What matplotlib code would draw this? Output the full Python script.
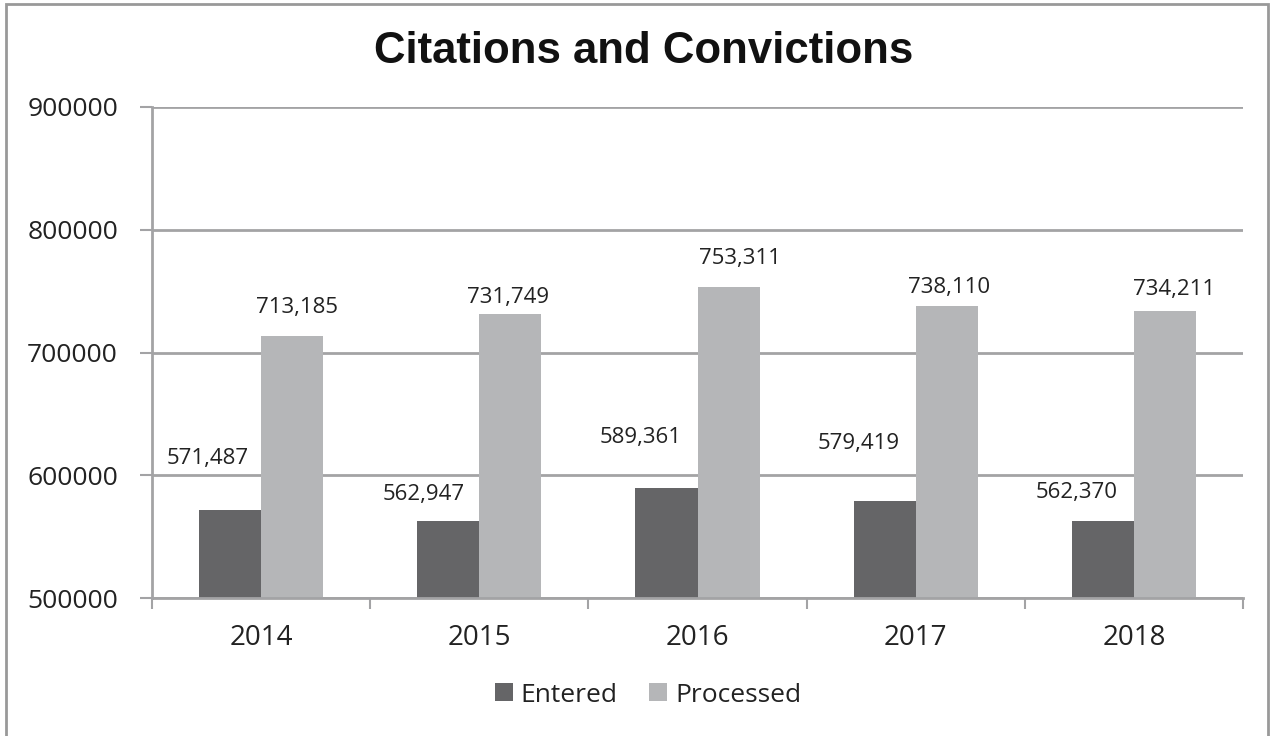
import numpy as np
import matplotlib.pyplot as plt
from matplotlib.patches import Rectangle

years = ["2014", "2015", "2016", "2017", "2018"]
entered = [571487, 562947, 589361, 579419, 562370]
processed = [713185, 731749, 753311, 738110, 734211]

# label nudges in pixels (Excel had them dragged by hand)
entered_nudge = [(-22, 52), (-25, 26), (-26, 51), (-26, 57), (-26, 29)]
processed_nudge = [(5, 29), (-2, 16), (11, 29), (2, 18), (9, 21)]

dark = "#656567"
light = "#b5b6b8"
grid = "#a3a3a5"
txt = "#222222"

fig = plt.figure(figsize=(12.74, 7.36), dpi=100)
ax = fig.add_axes([152 / 1274, 138 / 736, (1243 - 152) / 1274, (598 - 107) / 736])

x = np.arange(len(years))
w = 62 / 218
b1 = ax.bar(x - w / 2, np.array(entered) - 500000, w, bottom=500000, color=dark, label="Entered", zorder=3)
b2 = ax.bar(x + w / 2, np.array(processed) - 500000, w, bottom=500000, color=light, label="Processed", zorder=3)

for xi, v, (dx, dy) in zip(x - w / 2, entered, entered_nudge):
    ax.annotate(f"{v:,}", xy=(xi, v), xytext=(dx, dy), textcoords="offset pixels",
                ha="center", va="center", fontsize=16, family="Open Sans", color=txt)
for xi, v, (dx, dy) in zip(x + w / 2, processed, processed_nudge):
    ax.annotate(f"{v:,}", xy=(xi, v), xytext=(dx, dy), textcoords="offset pixels",
                ha="center", va="center", fontsize=16, family="Open Sans", color=txt)

ax.set_ylim(500000, 900000)
ax.set_xlim(-0.5, len(years) - 0.5)
ax.set_yticks([500000, 600000, 700000, 800000, 900000])
ax.set_yticklabels(["500000", "600000", "700000", "800000", "900000"], family="Open Sans", fontsize=19, color=txt)
ax.set_xticks(x)
ax.set_xticklabels(years, family="Open Sans", fontsize=20, color=txt)
ax.set_xticks(np.arange(-0.5, len(years)), minor=True)
ax.tick_params(axis="x", which="major", length=0, pad=19)
ax.tick_params(axis="x", which="minor", length=8, width=1.5, color=grid, direction="out")
ax.tick_params(axis="y", length=9, width=1.5, color=grid, pad=15.5)

ax.grid(axis="y", color=grid, linewidth=2, zorder=1)
for s in ["top", "right"]:
    ax.spines[s].set_visible(False)
for s in ["left", "bottom"]:
    ax.spines[s].set_color(grid)
    ax.spines[s].set_linewidth(2)
ax.spines["bottom"].set_zorder(4)

fig.text(0.505, 0.93, "Citations and Convictions", ha="center", va="center",
         fontsize=31.5, fontweight="bold", family="Liberation Sans", color="#111111")

leg = fig.legend(handles=[b1, b2], loc="center", bbox_to_anchor=(648 / 1274, 1 - 695 / 736), ncol=2, frameon=False,
                 prop={"family": "Open Sans", "size": 19}, handlelength=0.68, handleheight=0.68,
                 handletextpad=0.3, columnspacing=1.2)
for t in leg.get_texts():
    t.set_color(txt)

fig.patches.append(Rectangle((0.005, -0.01), 0.99, 1.005, transform=fig.transFigure,
                             fill=False, edgecolor="#999999", linewidth=2))

fig.savefig("out.png", dpi=100)
